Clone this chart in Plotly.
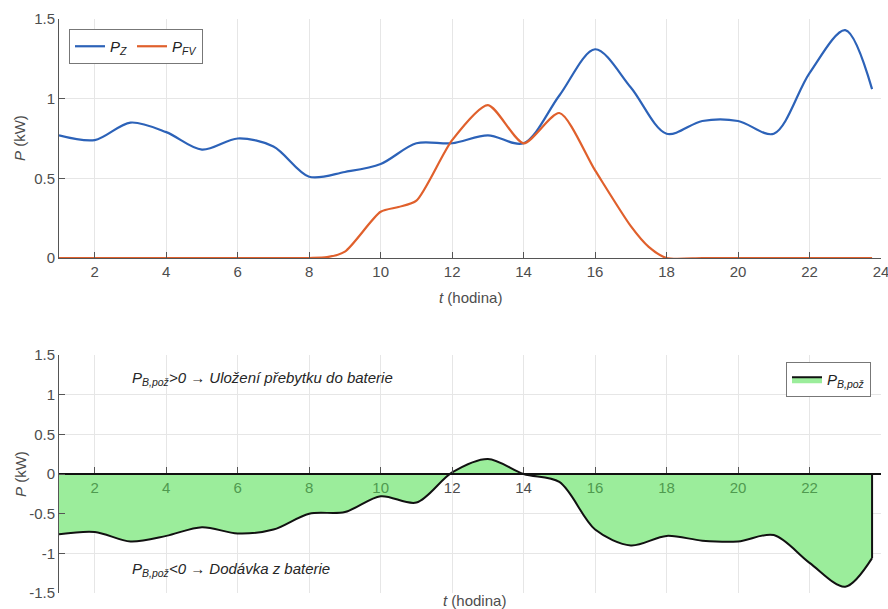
import plotly.graph_objects as go

# ---------------- data ----------------
hours = [1, 2, 3, 4, 5, 6, 7, 8, 9, 10, 11, 12, 13, 14, 15, 16, 17, 18, 19, 20, 21, 22, 23, 23.75]
p_z = [0.77, 0.74, 0.85, 0.79, 0.68, 0.75, 0.70, 0.51, 0.54, 0.59, 0.72, 0.72, 0.77, 0.72,
       1.02, 1.31, 1.07, 0.78, 0.86, 0.86, 0.78, 1.16, 1.43, 1.06]

hours_fv = [1, 2, 3, 4, 5, 6, 7, 8, 8.5, 9, 10, 10.5, 11, 12, 13, 14, 15, 16, 17, 17.5, 18,
            19, 20, 21, 22, 23, 23.75]
p_fv = [0, 0, 0, 0, 0, 0, 0, 0, 0.005, 0.04, 0.29, 0.32, 0.36, 0.74, 0.96, 0.72, 0.91, 0.55,
        0.20, 0.07, 0, 0, 0, 0, 0, 0, 0]

p_b = [-0.76, -0.73, -0.85, -0.78, -0.67, -0.75, -0.70, -0.50, -0.48, -0.28, -0.36, 0.02,
       0.19, 0.0, -0.10, -0.70, -0.90, -0.78, -0.84, -0.85, -0.77, -1.12, -1.42, -1.06]

x_ticks_top = [2, 4, 6, 8, 10, 12, 14, 16, 18, 20, 22, 24]
x_ticks_bottom = [2, 4, 6, 8, 10, 12, 14, 16, 18, 20, 22]
bottom_tick_in_fill = [True, True, True, True, True, False, False, True, True, True, True]
y_ticks_top = [0, 0.5, 1, 1.5]
y_ticks_top_text = ["0", "0.5", "1", "1.5"]
y_ticks_bottom = [-1.5, -1, -0.5, 0, 0.5, 1, 1.5]
y_ticks_bottom_text = ["-1.5", "-1", "-0.5", "0", "0.5", "1", "1.5"]

# ---------------- style ----------------
W, H = 888, 609
FONT = "Liberation Sans, Arial, Helvetica, sans-serif"
TXT = "#4d4d4d"
GRID = "#e6e6e6"
BLUE = "#2c62b8"
ORANGE = "#e0602c"
FILL = "#9bed9b"
TICK_GREEN = "#4f9a4f"

def px_x(p):
    return p / W

def px_y(p):
    return 1 - p / H

fig = go.Figure()

fig.add_trace(go.Scatter(x=hours, y=p_z, mode="lines", line=dict(color=BLUE, width=2.2, shape="spline", smoothing=0.9),
                         name="<i>P</i><sub><i>Z</i></sub>", xaxis="x", yaxis="y", legend="legend"))
fig.add_trace(go.Scatter(x=hours_fv, y=p_fv, mode="lines", line=dict(color=ORANGE, width=2.2, shape="spline", smoothing=0.7),
                         name="<i>P</i><sub><i>FV</i></sub>", xaxis="x", yaxis="y", legend="legend"))

fig.add_trace(go.Scatter(x=hours, y=p_b, mode="lines", fill="tozeroy", fillcolor=FILL,
                         line=dict(color="#111111", width=2, shape="spline", smoothing=0.9),
                         name="<i>P</i><sub><i>B,pož</i></sub>", xaxis="x2", yaxis="y2", legend="legend2"))
# closing edge of the area at the last sample
fig.add_trace(go.Scatter(x=[hours[-1], hours[-1]], y=[0, p_b[-1]], mode="lines",
                         line=dict(color="#111111", width=2), showlegend=False, hoverinfo="skip",
                         xaxis="x2", yaxis="y2"))

xdom = [px_x(59), px_x(881)]
axis_common = dict(showline=True, linecolor="#555555", linewidth=1, ticks="inside", ticklen=6,
                   tickcolor="#555555", showgrid=True, gridcolor=GRID, gridwidth=1, zeroline=False,
                   tickfont=dict(family=FONT, size=15, color=TXT), mirror=False,
                   ticklabeloverflow="allow", automargin=False)

bottom_ticktext = [
    f'<span style="color:{TICK_GREEN}">{v}</span>' if f else f'<span style="color:{TXT}">{v}</span>'
    for v, f in zip(x_ticks_bottom, bottom_tick_in_fill)
]

fig.update_layout(
    width=W, height=H,
    margin=dict(l=0, r=0, t=0, b=0, autoexpand=False),
    paper_bgcolor="white", plot_bgcolor="white",
    font=dict(family=FONT, size=15, color=TXT),
    xaxis=dict(domain=xdom, range=[1, 24], tickvals=x_ticks_top, anchor="y", **axis_common),
    yaxis=dict(domain=[px_y(258), px_y(19)], range=[0, 1.5], tickvals=y_ticks_top,
               ticktext=y_ticks_top_text, anchor="x", **axis_common),
    xaxis2=dict(domain=xdom, range=[1, 24], tickvals=x_ticks_bottom, ticktext=bottom_ticktext,
                anchor="free", position=px_y(474),
                **{**axis_common, "linecolor": "#111111", "linewidth": 2}),
    yaxis2=dict(domain=[px_y(593), px_y(355)], range=[-1.5, 1.5], tickvals=y_ticks_bottom,
                ticktext=y_ticks_bottom_text, anchor="x2", **axis_common),
    legend=dict(orientation="h", x=px_x(69), y=px_y(29), xanchor="left", yanchor="top",
                bgcolor="white", bordercolor="#777777", borderwidth=1,
                font=dict(family=FONT, size=15, color="#222222"), tracegroupgap=0, itemwidth=30),
    legend2=dict(x=px_x(871), y=px_y(362), xanchor="right", yanchor="top",
                 bgcolor="white", bordercolor="#777777", borderwidth=1,
                 font=dict(family=FONT, size=15, color="#222222"), itemwidth=30),
    showlegend=True,
)

ann = []
ann.append(dict(text="<i>P</i> (kW)", x=px_x(20), y=px_y(138), xref="paper", yref="paper",
                xanchor="center", yanchor="middle",
                textangle=-90, showarrow=False, font=dict(family=FONT, size=15, color=TXT)))
ann.append(dict(text="<i>P</i> (kW)", x=px_x(20), y=px_y(474), xref="paper", yref="paper",
                xanchor="center", yanchor="middle",
                textangle=-90, showarrow=False, font=dict(family=FONT, size=15, color=TXT)))
ann.append(dict(text="<i>t</i> (hodina)", x=px_x(470), y=px_y(297), xref="paper", yref="paper",
                xanchor="center", yanchor="middle",
                showarrow=False, font=dict(family=FONT, size=15, color=TXT)))
ann.append(dict(text="<i>t</i> (hodina)", x=px_x(474), y=px_y(600), xref="paper", yref="paper",
                xanchor="center", yanchor="middle",
                showarrow=False, font=dict(family=FONT, size=15, color=TXT)))
ann.append(dict(text="<i>P</i><sub><i>B,pož</i></sub><i>&gt;0 → Uložení přebytku do baterie</i>",
                x=3, y=1.2, xref="x2", yref="y2", xanchor="left", showarrow=False,
                font=dict(family=FONT, size=15, color="#262626")))
ann.append(dict(text="<i>P</i><sub><i>B,pož</i></sub><i>&lt;0 → Dodávka z baterie</i>",
                x=3, y=-1.2, xref="x2", yref="y2", xanchor="left", showarrow=False,
                font=dict(family=FONT, size=15, color="#262626")))
fig.update_layout(annotations=ann)

fig.write_html("out.html")
